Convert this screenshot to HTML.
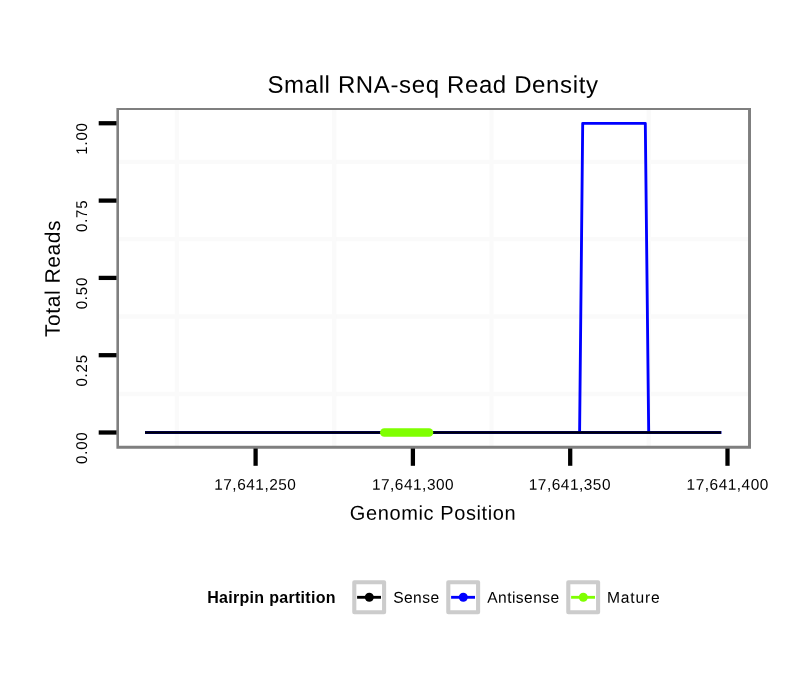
<!DOCTYPE html>
<html><head><meta charset="utf-8">
<style>
html,body{margin:0;padding:0;background:#fff;}
svg{display:block;will-change:transform;}
text{font-family:"Liberation Sans",sans-serif;fill:#000;}
</style></head><body>
<svg width="810" height="690" viewBox="0 0 810 690" xmlns="http://www.w3.org/2000/svg">
<rect x="0" y="0" width="810" height="690" fill="#fff"/>
<!-- minor grid -->
<g stroke="#fafafa" stroke-width="4.27" fill="none">
<line x1="117.75" x2="749.5" y1="394" y2="394"/>
<line x1="117.75" x2="749.5" y1="316.5" y2="316.5"/>
<line x1="117.75" x2="749.5" y1="239.2" y2="239.2"/>
<line x1="117.75" x2="749.5" y1="161.9" y2="161.9"/>
<line y1="109" y2="447.3" x1="176.9" x2="176.9"/>
<line y1="109" y2="447.3" x1="334.2" x2="334.2"/>
<line y1="109" y2="447.3" x1="491.5" x2="491.5"/>
<line y1="109" y2="447.3" x1="648.8" x2="648.8"/>
</g>
<!-- data -->
<polyline points="145,432.5 579.6,432.5 582.7,123.3 645.3,123.3 648.7,432.5 721.2,432.5" fill="none" stroke="#0000ff" stroke-width="2.85" stroke-linejoin="round"/>
<line x1="145" x2="721.2" y1="432.5" y2="432.5" stroke="#0000ff" stroke-width="3.0"/>
<line x1="145" x2="721.2" y1="432.5" y2="432.5" stroke="#000" stroke-width="2.7"/>
<line x1="384.3" x2="429" y1="432.5" y2="432.5" stroke="#7fff00" stroke-width="8.6" stroke-linecap="round"/>
<!-- border -->
<path fill="#7f7f7f" fill-rule="evenodd" d="M116.4 108.04H751V448.78H116.4Z M119 110.1H748.04V445.87H119Z"/>
<!-- ticks -->
<g stroke="#000" stroke-width="4.27">
<line x1="98.7" x2="116.5" y1="123.25" y2="123.25"/>
<line x1="98.7" x2="116.5" y1="200.6" y2="200.6"/>
<line x1="98.7" x2="116.5" y1="277.9" y2="277.9"/>
<line x1="98.7" x2="116.5" y1="355.2" y2="355.2"/>
<line x1="98.7" x2="116.5" y1="432.5" y2="432.5"/>
<line y1="448.5" y2="465.8" x1="255.6" x2="255.6"/>
<line y1="448.5" y2="465.8" x1="412.9" x2="412.9"/>
<line y1="448.5" y2="465.8" x1="570.2" x2="570.2"/>
<line y1="448.5" y2="465.8" x1="727.5" x2="727.5"/>
</g>
<!-- y tick labels -->
<g font-size="15.6" text-anchor="end" letter-spacing="0.85">
<text transform="translate(86.95,122.25) rotate(-89.9) scale(0.96,1)">1.00</text>
<text transform="translate(86.95,199.60) rotate(-89.9) scale(0.96,1)">0.75</text>
<text transform="translate(86.95,276.90) rotate(-89.9) scale(0.96,1)">0.50</text>
<text transform="translate(86.95,354.20) rotate(-89.9) scale(0.96,1)">0.25</text>
<text transform="translate(86.95,431.50) rotate(-89.9) scale(0.96,1)">0.00</text>
</g>
<!-- x tick labels -->
<g font-size="15.4" text-anchor="middle" letter-spacing="0.52">
<text transform="translate(255.3,489.8) rotate(0.08)">17,641,250</text>
<text transform="translate(413.0,489.8) rotate(0.08)">17,641,300</text>
<text transform="translate(569.9,489.8) rotate(0.08)">17,641,350</text>
<text transform="translate(727.7,489.8) rotate(0.08)">17,641,400</text>
</g>
<!-- titles -->
<text transform="translate(433.0,92.8) rotate(0.03)" font-size="24" text-anchor="middle" letter-spacing="0.63">Small RNA-seq Read Density</text>
<text transform="translate(433.0,519.7) rotate(0.05)" font-size="20" text-anchor="middle" letter-spacing="0.6">Genomic Position</text>
<text transform="translate(59.8,278.5) rotate(-89.9)" font-size="21" text-anchor="middle" letter-spacing="0.56">Total Reads</text>
<!-- legend -->
<text x="207.2" y="602.9" font-size="16" font-weight="bold" letter-spacing="0.3">Hairpin partition</text>
<g fill="#fff" stroke="#cccccc" stroke-width="4.1" stroke-linejoin="round">
<rect x="354.3" y="582.3" width="29.8" height="29.9"/>
<rect x="448.3" y="582.3" width="29.8" height="29.9"/>
<rect x="568.3" y="582.3" width="29.8" height="29.9"/>
</g>
<g stroke-width="2.85">
<line x1="357.1" x2="381" y1="597.3" y2="597.3" stroke="#000"/>
<circle cx="369.3" cy="597.3" r="4.5" fill="#000" stroke="none"/>
<line x1="451.1" x2="475" y1="597.3" y2="597.3" stroke="#0000ff"/>
<circle cx="463.3" cy="597.3" r="4.5" fill="#0000ff" stroke="none"/>
<line x1="571.1" x2="595" y1="597.3" y2="597.3" stroke="#7fff00"/>
<circle cx="583.3" cy="597.3" r="4.5" fill="#7fff00" stroke="none"/>
</g>
<g font-size="15.6" letter-spacing="0.42">
<text transform="translate(393.2,602.7) rotate(0.06)">Sense</text>
<text transform="translate(487.3,602.7) rotate(0.06)">Antisense</text>
<text transform="translate(606.9,602.7) rotate(0.06)" letter-spacing="0.85">Mature</text>
</g>
</svg>
</body></html>
